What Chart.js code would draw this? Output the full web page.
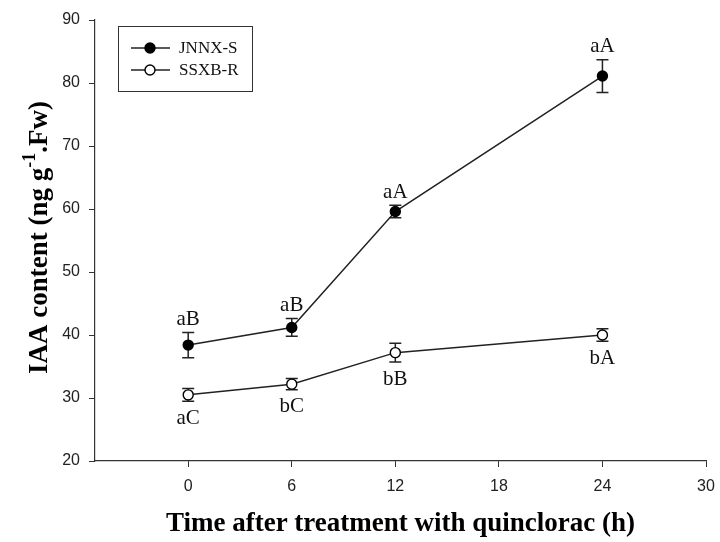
<!DOCTYPE html>
<html>
<head>
<meta charset="utf-8">
<script src="https://cdn.jsdelivr.net/npm/chart.js@4"></script>
<style>
  body { margin: 0; background: #fff; }
  #wrap { width: 720px; height: 542px; }
</style>
</head>
<body>
<div id="wrap"><canvas id="graph" width="720" height="542"></canvas></div>
<script>
// hours after treatment
const hours = [0, 6, 12, 24];
const xTicks = [0, 6, 12, 18, 24, 30];

// IAA content, ng g-1 Fw
const jnnx = [38.4, 41.2, 59.6, 81.1];
const jnnxErr = [2.0, 1.4, 1.0, 2.6];
const jnnxLetters = ["aB", "aB", "aA", "aA"];

const ssxb = [30.5, 32.2, 37.2, 40.0];
const ssxbErr = [1.0, 0.9, 1.5, 1.0];
const ssxbLetters = ["aC", "bC", "bB", "bA"];

const serif = "'Liberation Serif', 'Times New Roman', serif";
const sans = "'Liberation Sans', Arial, sans-serif";

const toPts = (ys) => hours.map((h, i) => ({ x: h, y: ys[i] }));

// error bars + significance letters
const errorBars = {
  id: "errorBars",
  beforeDatasetsDraw(chart) {
    const { ctx, scales: { x, y } } = chart;
    const sets = [[jnnx, jnnxErr], [ssxb, ssxbErr]];
    ctx.save();
    ctx.strokeStyle = "#222";
    ctx.lineWidth = 1.5;
    sets.forEach(([vals, errs]) => {
      vals.forEach((v, i) => {
        const px = x.getPixelForValue(hours[i]);
        const top = y.getPixelForValue(v + errs[i]);
        const bot = y.getPixelForValue(v - errs[i]);
        ctx.beginPath();
        ctx.moveTo(px, top); ctx.lineTo(px, bot);
        ctx.moveTo(px - 6, top); ctx.lineTo(px + 6, top);
        ctx.moveTo(px - 6, bot); ctx.lineTo(px + 6, bot);
        ctx.stroke();
      });
    });
    ctx.restore();
  },
  afterDatasetsDraw(chart) {
    const { ctx, scales: { x, y } } = chart;
    ctx.save();
    ctx.font = "21px " + serif;
    ctx.fillStyle = "#111";
    ctx.textAlign = "center";
    ctx.textBaseline = "middle";
    jnnx.forEach((v, i) => {
      ctx.fillText(jnnxLetters[i], x.getPixelForValue(hours[i]), y.getPixelForValue(v + jnnxErr[i]) - 13);
    });
    ssxb.forEach((v, i) => {
      ctx.fillText(ssxbLetters[i], x.getPixelForValue(hours[i]), y.getPixelForValue(v - ssxbErr[i]) + 17);
    });
    ctx.restore();
  }
};

// legend box, axis titles
const decor = {
  id: "decor",
  afterDraw(chart) {
    const { ctx, chartArea } = chart;
    ctx.save();

    // legend
    ctx.strokeStyle = "#333";
    ctx.lineWidth = 1;
    ctx.strokeRect(118.5, 26.5, 134, 65);
    const rows = [
      { label: "JNNX-S", fill: "#000", y: 48 },
      { label: "SSXB-R", fill: "#fff", y: 70 }
    ];
    ctx.font = "17px " + serif;
    ctx.textBaseline = "middle";
    rows.forEach((r) => {
      ctx.strokeStyle = "#222";
      ctx.lineWidth = 1.4;
      ctx.beginPath();
      ctx.moveTo(131, r.y); ctx.lineTo(170, r.y);
      ctx.stroke();
      ctx.beginPath();
      ctx.arc(150, r.y, 5, 0, Math.PI * 2);
      ctx.fillStyle = r.fill;
      ctx.fill();
      ctx.strokeStyle = "#000";
      ctx.stroke();
      ctx.fillStyle = "#111";
      ctx.textAlign = "left";
      ctx.fillText(r.label, 179, r.y + 1);
    });

    // x title
    ctx.fillStyle = "#000";
    ctx.font = "bold 27px " + serif;
    ctx.textAlign = "center";
    ctx.textBaseline = "middle";
    ctx.fillText("Time after treatment with quinclorac (h)", (chartArea.left + chartArea.right) / 2, 524);

    // y title with superscript
    const cy = (chartArea.top + chartArea.bottom) / 2 - 3;
    ctx.translate(38, cy);
    ctx.rotate(-Math.PI / 2);
    const big = "bold 27px " + serif;
    const small = "bold 18px " + serif;
    const parts = [
      { t: "IAA content (ng g", f: big, dy: 0 },
      { t: "-1", f: small, dy: -12 },
      { t: ".Fw)", f: big, dy: 0 }
    ];
    let total = 0;
    parts.forEach((p) => { ctx.font = p.f; p.w = ctx.measureText(p.t).width; total += p.w; });
    let cx = -total / 2;
    ctx.textAlign = "left";
    ctx.textBaseline = "alphabetic";
    parts.forEach((p) => {
      ctx.font = p.f;
      ctx.fillText(p.t, cx, 9 + p.dy);
      cx += p.w;
    });
    ctx.restore();
  }
};

new Chart(document.getElementById("graph"), {
  type: "line",
  data: {
    datasets: [
      {
        label: "JNNX-S",
        data: toPts(jnnx),
        borderColor: "#222",
        borderWidth: 1.5,
        pointRadius: 5,
        pointBackgroundColor: "#000",
        pointBorderColor: "#000",
        pointBorderWidth: 1.4,
        tension: 0
      },
      {
        label: "SSXB-R",
        data: toPts(ssxb),
        borderColor: "#222",
        borderWidth: 1.5,
        pointRadius: 5,
        pointBackgroundColor: "#fff",
        pointBorderColor: "#000",
        pointBorderWidth: 1.4,
        tension: 0
      }
    ]
  },
  options: {
    responsive: false,
    animation: false,
    layout: { padding: { top: 20, right: 14, left: 0, bottom: 0 } },
    plugins: { legend: { display: false }, tooltip: { enabled: false } },
    scales: {
      x: {
        type: "linear",
        min: -5.4,
        max: 30,
        afterBuildTicks: (scale) => { scale.ticks = xTicks.map((v) => ({ value: v })); },
        afterFit: (scale) => { scale.height = 81; scale.paddingRight = 0; scale.paddingLeft = 0; },
        border: { display: true, color: "#333", width: 1.2 },
        grid: { drawOnChartArea: false, drawTicks: true, tickLength: 6, color: "#333" },
        ticks: { color: "#222", font: { family: sans, size: 16 }, padding: 10, maxRotation: 0 }
      },
      y: {
        min: 20,
        max: 90,
        afterFit: (scale) => { scale.width = 95; },
        border: { display: true, color: "#333", width: 1.2 },
        grid: { drawOnChartArea: false, drawTicks: true, tickLength: 6, color: "#333" },
        ticks: { stepSize: 10, color: "#222", font: { family: sans, size: 16 }, padding: 9 }
      }
    }
  },
  plugins: [errorBars, decor]
});
</script>
</body>
</html>
